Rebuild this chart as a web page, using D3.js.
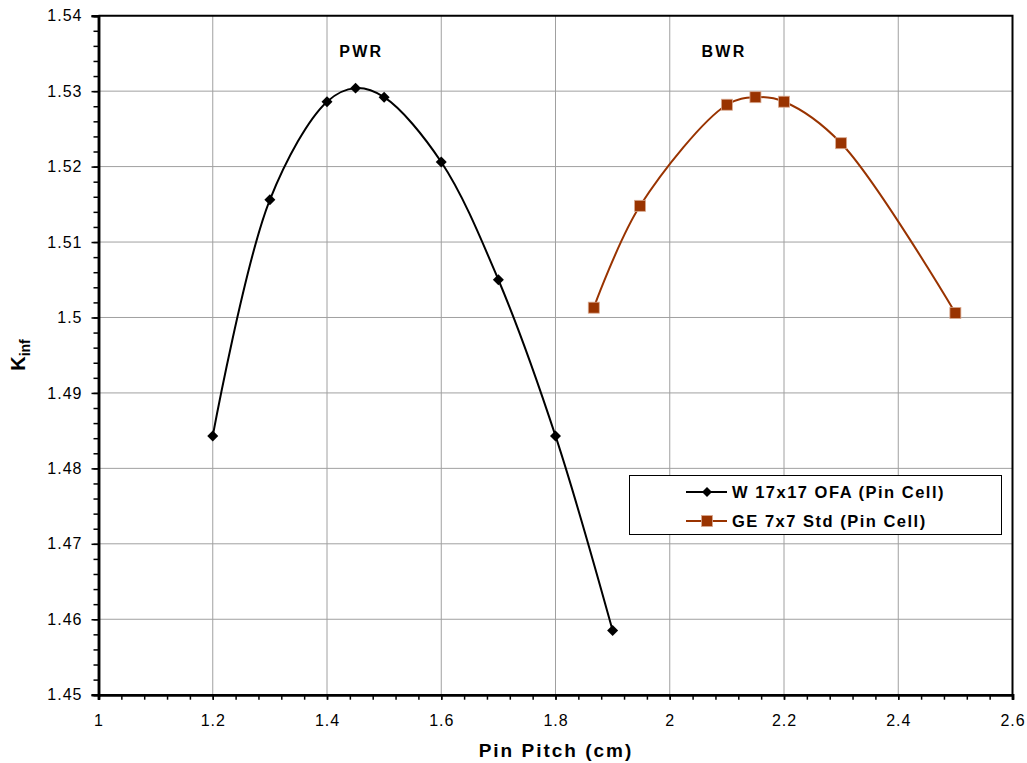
<!DOCTYPE html>
<html>
<head>
<meta charset="utf-8">
<script src="https://cdn.jsdelivr.net/npm/d3@7"></script>
<style>
  body { margin: 0; background: #fff; }
  text { font-family: "Liberation Sans", Arial, sans-serif; fill: #000; }
</style>
</head>
<body>
<script>
// pin pitch (cm) and k-inf
var pwrPitch = [1.2, 1.3, 1.4, 1.45, 1.5, 1.6, 1.7, 1.8, 1.9];
var pwrKinf  = [1.4843, 1.5156, 1.5286, 1.5304, 1.5292, 1.5206, 1.5050, 1.4843, 1.4585];

var bwrPitch = [1.867, 1.948, 2.1, 2.15, 2.2, 2.3, 2.5];
var bwrKinf  = [1.5013, 1.5148, 1.5282, 1.5292, 1.5286, 1.5231, 1.5006];

var xTicks = [1, 1.2, 1.4, 1.6, 1.8, 2, 2.2, 2.4, 2.6];
var yTicks = [1.45, 1.46, 1.47, 1.48, 1.49, 1.5, 1.51, 1.52, 1.53, 1.54];

var seriesNames = ["W 17x17 OFA (Pin Cell)", "GE 7x7 Std (Pin Cell)"];
var groupLabels = ["PWR", "BWR"];
var groupLabelX = [1.46, 2.095];

var W = 1027, H = 763;
// plot box (window.top is taken, so m* names)
var mLeft = 98.5, mRight = 1012.5, mTop = 15.7, mBottom = 694.7;

var svg = d3.select("body").append("svg")
    .attr("width", W)
    .attr("height", H);

var x = d3.scaleLinear().domain([1, 2.6]).range([mLeft, mRight]);
var y = d3.scaleLinear().domain([1.45, 1.54]).range([mBottom, mTop]);

// gridlines
svg.append("g").selectAll("line").data(xTicks.slice(1, -1)).enter().append("line")
    .attr("x1", d => x(d)).attr("x2", d => x(d))
    .attr("y1", mTop).attr("y2", mBottom)
    .attr("stroke", "#a0a0a0").attr("stroke-width", 1);
svg.append("g").selectAll("line").data(yTicks.slice(1, -1)).enter().append("line")
    .attr("x1", mLeft).attr("x2", mRight)
    .attr("y1", d => y(d)).attr("y2", d => y(d))
    .attr("stroke", "#a0a0a0").attr("stroke-width", 1);

// frame top + right
svg.append("path")
    .attr("d", "M" + mLeft + "," + mTop + "H" + mRight + "V" + mBottom)
    .attr("fill", "none").attr("stroke", "#000").attr("stroke-width", 2);

// axes
var xMinor = d3.range(0, 41).map(i => 1 + i * 0.04);
var yMinor = d3.range(0, 46).map(i => 1.45 + i * 0.002);

var xAxis = svg.append("g").attr("transform", "translate(0," + mBottom + ")")
    .call(d3.axisBottom(x).tickValues(xMinor).tickSize(5).tickFormat(""));
xAxis.append("g").call(d3.axisBottom(x).tickValues(xTicks).tickSize(5).tickPadding(15)
    .tickFormat(d3.format("")));
var yAxis = svg.append("g").attr("transform", "translate(" + mLeft + ",0)")
    .call(d3.axisLeft(y).tickValues(yMinor).tickSize(5).tickFormat(""));
yAxis.append("g").call(d3.axisLeft(y).tickValues(yTicks).tickSize(7).tickPadding(9)
    .tickFormat(d3.format("")));

svg.selectAll(".domain").attr("stroke", "#000").attr("stroke-width", 2.5);
svg.selectAll(".tick line").attr("stroke", "#000").attr("stroke-width", 1.5);
svg.selectAll(".tick text").style("font-size", "16px").style("fill", "#000")
    .style("letter-spacing", "1px")
    .style("font-family", "'Liberation Sans', Arial, sans-serif");

// titles
svg.append("text")
    .attr("x", 556).attr("y", 757)
    .attr("text-anchor", "middle")
    .style("font-size", "19px").style("font-weight", "bold").style("letter-spacing", "2px")
    .text("Pin Pitch (cm)");

var yt = svg.append("text")
    .attr("transform", "translate(25,355) rotate(-90)")
    .attr("text-anchor", "middle")
    .style("font-size", "20px").style("font-weight", "bold");
yt.append("tspan").text("K");
yt.append("tspan").attr("dy", 5).style("font-size", "14px").text("inf");

svg.selectAll(".grp").data(groupLabels).enter().append("text")
    .attr("x", (d, i) => x(groupLabelX[i]))
    .attr("y", 57)
    .attr("text-anchor", "middle")
    .style("font-size", "16px").style("font-weight", "bold").style("letter-spacing", "2.2px")
    .text(d => d);

// series
var line = d3.line()
    .x(d => x(d[0])).y(d => y(d[1]))
    .curve(d3.curveCatmullRom.alpha(0.5));

var pwr = pwrPitch.map((p, i) => [p, pwrKinf[i]]);
var bwr = bwrPitch.map((p, i) => [p, bwrKinf[i]]);

svg.append("path").datum(pwr).attr("d", line)
    .attr("fill", "none").attr("stroke", "#000").attr("stroke-width", 2);
svg.append("path").datum(bwr).attr("d", line)
    .attr("fill", "none").attr("stroke", "#993300").attr("stroke-width", 2);

svg.append("g").selectAll("path").data(pwr).enter().append("path")
    .attr("d", d3.symbol().type(d3.symbolSquare).size(60))
    .attr("transform", d => "translate(" + x(d[0]) + "," + y(d[1]) + ") rotate(45)")
    .attr("fill", "#000");

svg.append("g").selectAll("rect").data(bwr).enter().append("rect")
    .attr("x", d => x(d[0]) - 5.5).attr("y", d => y(d[1]) - 5.5)
    .attr("width", 11).attr("height", 11)
    .attr("fill", "#993300").attr("stroke", "#d9a98f").attr("stroke-width", 0.8);

// legend
var lg = svg.append("g");
lg.append("rect")
    .attr("x", 629.5).attr("y", 475.5).attr("width", 372).attr("height", 59)
    .attr("fill", "#fff").attr("stroke", "#000").attr("stroke-width", 1);
var rowY = [492, 521];
var colors = ["#000", "#993300"];
lg.selectAll(".ll").data(seriesNames).enter().append("line")
    .attr("x1", 686).attr("x2", 727)
    .attr("y1", (d, i) => rowY[i]).attr("y2", (d, i) => rowY[i])
    .attr("stroke", (d, i) => colors[i]).attr("stroke-width", 2);
lg.append("path")
    .attr("d", d3.symbol().type(d3.symbolSquare).size(50))
    .attr("transform", "translate(707," + rowY[0] + ") rotate(45)")
    .attr("fill", "#000");
lg.append("rect")
    .attr("x", 701.5).attr("y", rowY[1] - 5.5).attr("width", 11).attr("height", 11)
    .attr("fill", "#993300").attr("stroke", "#d9a98f").attr("stroke-width", 0.8);
lg.selectAll(".lt").data(seriesNames).enter().append("text")
    .attr("x", 732).attr("y", (d, i) => rowY[i] + 6)
    .style("font-size", "16.5px").style("font-weight", "bold").style("letter-spacing", "1.5px")
    .text(d => d);
</script>
</body>
</html>
